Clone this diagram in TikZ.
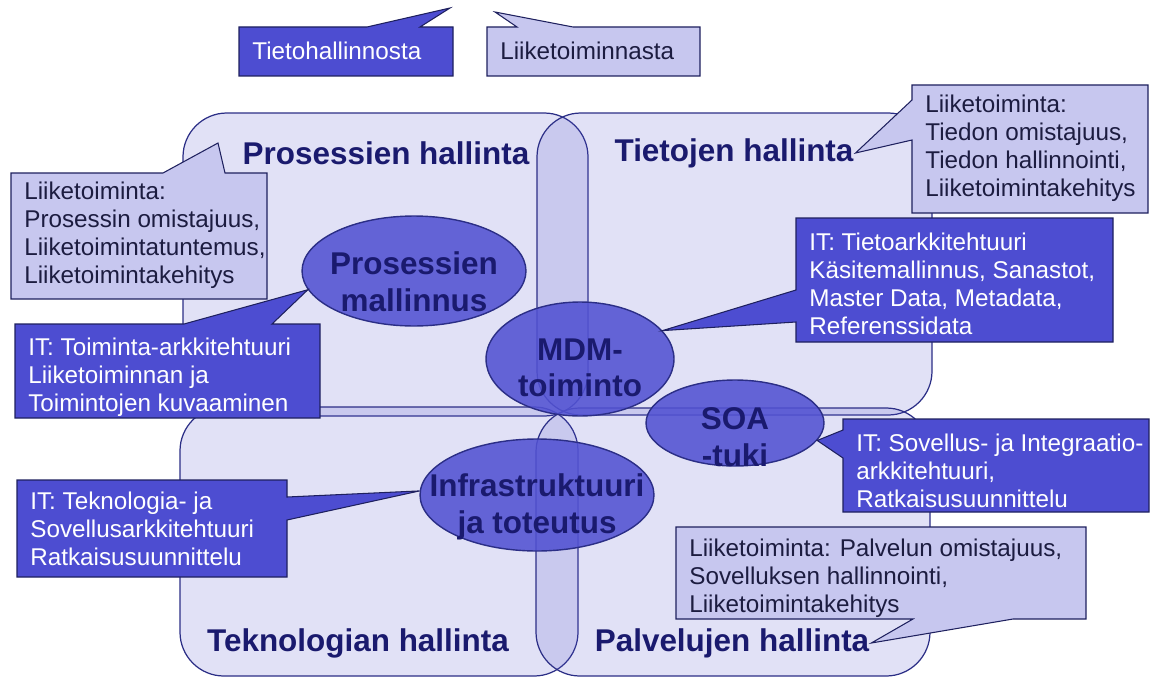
\documentclass[tikz,border=0pt]{standalone}
\usepackage{fontspec}
\setmainfont{Liberation Sans}
\usetikzlibrary{shapes.geometric}
\definecolor{navy}{HTML}{2B2E86}
\definecolor{quad}{HTML}{5050C8}
\definecolor{itfill}{HTML}{4D4DD1}
\definecolor{bizfill}{HTML}{C7C7EF}
\definecolor{elfill}{HTML}{5252D2}
\definecolor{labtxt}{HTML}{1A1A6E}
\definecolor{biztxt}{HTML}{1C1C40}
\newcommand{\bodyfont}{\fontsize{13.8}{15.9}\selectfont}
\newcommand{\headfont}{\fontsize{17.9}{21}\selectfont\bfseries}

\begin{document}
\begin{tikzpicture}[x=0.02cm,y=-0.02cm,
  quadbox/.style={draw=navy,line width=0.7pt,fill=quad,fill opacity=0.17,rounded corners=25pt},
  head/.style={font=\headfont,text=labtxt,inner sep=1pt},
  elps/.style={ellipse,draw=navy,line width=0.8pt,fill=elfill,fill opacity=0.88,inner sep=0pt},
  elpstext/.style={font=\headfont,text=labtxt,align=center},
  itcall/.style={draw=navy!70!black,line width=0.6pt,fill=itfill},
  bizcall/.style={draw=navy!70!black,line width=0.6pt,fill=bizfill},
  ittext/.style={font=\bodyfont,text=white,align=left,anchor=west,inner xsep=7.4pt},
  biztext/.style={font=\bodyfont,text=biztxt,align=left,anchor=west,inner xsep=7.4pt}]
  \useasboundingbox (0,0) rectangle (1158,679);
  % four management areas
  \draw[quadbox] (183,113) rectangle (588,416);
  \draw[quadbox] (537,113) rectangle (932,415);
  \draw[quadbox] (180,407) rectangle (578,676);
  \draw[quadbox] (536,408) rectangle (930,676);
  \node[head] (prh) at (386,153) {Prosessien hallinta};
  \node[head] (tjh) at (734,153) {Tietojen hallinta};
  \node[head] (tkh) at (358,643) {Teknologian hallinta};
  \node[head] (pvh) at (732,643) {Palvelujen hallinta};
  % functions
  \node[elps,minimum width=4.48cm,minimum height=2.2cm] (pm) at (414,271) {};
  \node[elpstext] at ([yshift=-6]pm) {Prosessien\\mallinnus};
  \node[elps,minimum width=3.76cm,minimum height=2.28cm] (mdm) at (580,359) {};
  \node[elpstext] at ([yshift=-5]mdm) {MDM-\\toiminto};
  \node[elps,minimum width=3.56cm,minimum height=1.72cm] (soa) at (735,423) {};
  \node[elpstext] at ([yshift=-8]soa) {SOA\\-tuki};
  \node[elps,minimum width=4.68cm,minimum height=2.24cm] (inf) at (537,495) {};
  \node[elpstext] at ([yshift=-7]inf) {Infrastruktuuri\\ja toteutus};
  % callouts
  \coordinate (t1) at (450,8);
  \coordinate (t2) at (495,12);
  \coordinate (t3) at (218,143);
  \filldraw[itcall] (239,27) -- (367,27) -- (t1) -- (420,27) -- (453,27) -- (453,76) -- (239,76) -- cycle;
  \node[ittext] (c1) at (239,51) {Tietohallinnosta};
  \filldraw[bizcall] (487,27) -- (517,27) -- (t2) -- (573,27) -- (700,27) -- (700,76) -- (487,76) -- cycle;
  \node[biztext] (c2) at (487,51) {Liiketoiminnasta};
  \filldraw[bizcall] (11,173) -- (163,173) -- (t3) -- (225,173) -- (267,173) -- (267,299) -- (11,299) -- cycle;
  \node[biztext] (c3) at (11,235) {Liiketoiminta:\\Prosessin omistajuus,\\Liiketoimintatuntemus,\\Liiketoimintakehitys};
  \filldraw[itcall] (15,324) -- (184,324) -- (pm.190) -- (272,324) -- (320,324) -- (320,418) -- (15,418) -- cycle;
  \node[ittext] (c4) at (15,377) {IT: Toiminta-arkkitehtuuri\\Liiketoiminnan ja\\Toimintojen kuvaaminen};
  \filldraw[bizcall] (912,85) -- (1148,85) -- (1148,213) -- (912,213) -- (912,140) -- (tjh.east) -- (912,100) -- cycle;
  \node[biztext] (c5) at (912,148) {Liiketoiminta:\\Tiedon omistajuus,\\Tiedon hallinnointi,\\Liiketoimintakehitys};
  \filldraw[itcall] (796,218) -- (1113,218) -- (1113,342) -- (796,342) -- (796,322) -- (mdm.19) -- (796,290) -- cycle;
  \node[ittext] (c6) at (796,284) {IT: Tietoarkkitehtuuri\\Käsitemallinnus, Sanastot,\\Master Data, Metadata,\\Referenssidata};
  \filldraw[itcall] (843,419) -- (1149,419) -- (1149,512) -- (843,512) -- (843,458) -- (soa.-12) -- (843,430) -- cycle;
  \node[ittext] (c7) at (843,471) {IT: Sovellus- ja Integraatio-\\arkkitehtuuri,\\Ratkaisusuunnittelu};
  \filldraw[itcall] (17,480) -- (287,480) -- (287,497) -- (inf.178) -- (287,520) -- (287,577) -- (17,577) -- cycle;
  \node[ittext] (c8) at (17,529) {IT: Teknologia- ja\\Sovellusarkkitehtuuri\\Ratkaisusuunnittelu};
  \filldraw[bizcall] (676,527) -- (1086,527) -- (1086,619) -- (1013,619) -- (pvh.east) -- (913,619) -- (676,619) -- cycle;
  \node[biztext] (c9) at (676,578) {Liiketoiminta: Palvelun omistajuus,\\Sovelluksen hallinnointi,\\Liiketoimintakehitys};
\end{tikzpicture}
\end{document}
